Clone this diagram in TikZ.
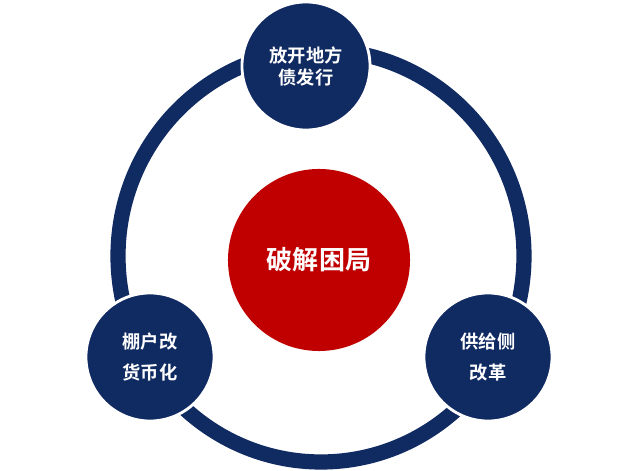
\documentclass[tikz,border=0pt]{standalone}
\usepackage{fontspec}
\usepackage{xcolor}
\usepackage{tikz}
\usetikzlibrary{positioning}
\newfontfamily\cjk{Noto Sans CJK SC}[BoldFont={Noto Sans CJK SC Bold}]
\definecolor{navy}{HTML}{102A62}
\definecolor{crimson}{HTML}{C00000}

\begin{document}
\begin{tikzpicture}[
    x=0.025cm, y=-0.025cm,
    ring/.style={draw=navy, line width=0.38cm},
    sat/.style={circle, fill=navy, draw=white, line width=2pt, minimum size=3.2cm, inner sep=0pt, align=center, text=white, font=\cjk\bfseries\fontsize{13}{22}\selectfont},
    core/.style={circle, fill=crimson, minimum size=4.55cm, inner sep=0pt, text=white, font=\cjk\bfseries\fontsize{18.5}{22}\selectfont},
  ]
  \useasboundingbox[fill=white] (0,0) rectangle (640,471);
  \coordinate (hub) at (321,256);
  \draw[ring] (hub) ellipse[x radius=203, y radius=206];

  \node[core] (crack) at (319,260) {破解困局};
  \node[sat, font=\cjk\bfseries\fontsize{13}{15.6}\selectfont] (bond) at (306,66) {放开地方\\债发行};
  \node[sat] (shed) at (150,357) {棚户改\\货币化};
  \node[sat] (supply) at (488,357) {供给侧\\改革};
\end{tikzpicture}
\end{document}
